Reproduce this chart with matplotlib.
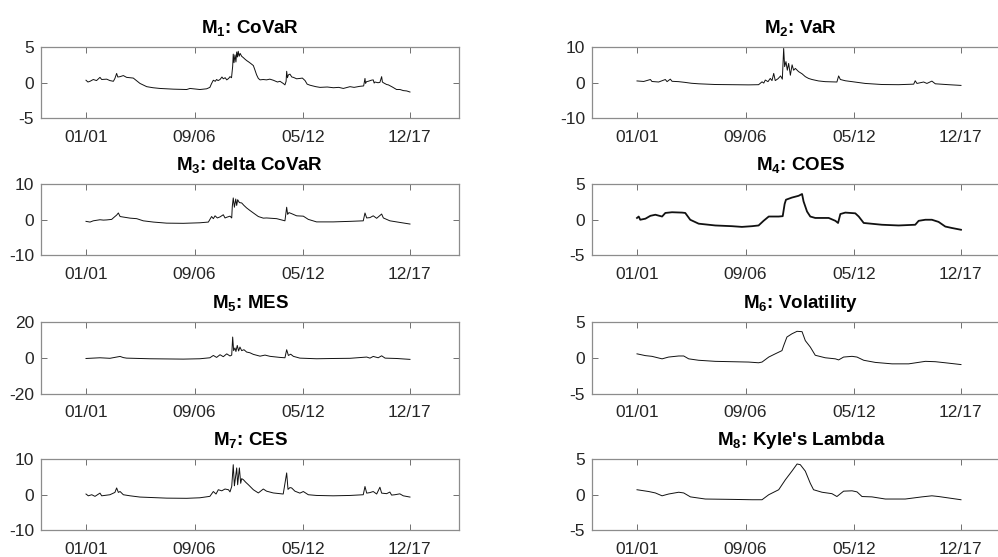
#!/usr/bin/env python3

import matplotlib
matplotlib.use("Agg")
import matplotlib.pyplot as plt

# time axis in decimal years

covar_t = [2001.00, 2001.10, 2001.21, 2001.38, 2001.55, 2001.73, 2001.82, 2002.08, 2002.25, 2002.43,
           2002.51, 2002.60, 2002.66, 2002.78, 2002.95, 2003.12, 2003.47, 2003.82, 2004.17, 2004.50,
           2004.86, 2005.56, 2006.26, 2006.43, 2006.95, 2007.30, 2007.47, 2007.56, 2007.65, 2007.75,
           2007.82, 2007.90, 2008.00, 2008.10, 2008.17, 2008.27, 2008.35, 2008.45, 2008.52, 2008.60,
           2008.66, 2008.69, 2008.73, 2008.78, 2008.83, 2008.87, 2008.91, 2008.95, 2009.00, 2009.05,
           2009.13, 2009.22, 2009.30, 2009.39, 2009.50, 2009.60, 2009.74, 2009.82, 2009.91, 2010.00,
           2010.09, 2010.25, 2010.43, 2010.60, 2010.78, 2011.00, 2011.13, 2011.30, 2011.39, 2011.45,
           2011.48, 2011.52, 2011.57, 2011.65, 2011.75, 2011.83, 2012.00, 2012.17, 2012.30, 2012.44,
           2012.55, 2012.70, 2013.00, 2013.22, 2013.60, 2013.92, 2014.20, 2014.44, 2014.79, 2015.00,
           2015.31, 2015.50, 2015.57, 2015.60, 2015.65, 2015.74, 2015.90, 2016.00, 2016.05, 2016.09,
           2016.25, 2016.35, 2016.44, 2016.48, 2016.53, 2016.70, 2016.79, 2017.00, 2017.22, 2017.40,
           2017.57, 2017.75, 2017.92]
covar_y = [0.35, 0.10, 0.20, 0.45, 0.30, 0.75, 0.45, 0.50, 0.30, 0.20,
           0.60, 1.30, 0.80, 0.85, 1.00, 0.75, 0.65, -0.10, -0.55, -0.70,
           -0.80, -0.90, -0.95, -0.80, -0.95, -0.85, -0.65, -0.10, 0.35, 0.20,
           0.45, 0.30, 0.45, 0.80, 0.55, 0.70, 0.40, 0.60, 0.85, 0.70,
           2.30, 4.00, 2.80, 3.90, 2.90, 4.30, 3.60, 4.40, 3.70, 4.10,
           3.70, 3.50, 3.30, 3.10, 2.90, 2.70, 2.40, 1.80, 1.10, 0.60,
           0.40, 0.45, 0.40, 0.50, 0.35, 0.10, 0.20, -0.10, -0.30, 0.20,
           1.60, 0.70, 1.10, 1.20, 0.80, 0.75, 0.55, 0.60, 0.65, 0.30,
           -0.20, -0.35, -0.55, -0.65, -0.60, -0.70, -0.65, -0.80, -0.55, -0.65,
           -0.50, -0.45, 0.60, -0.10, 0.15, 0.20, 0.35, 0.40, -0.05, 0.10,
           0.00, 0.05, 0.85, 0.10, 0.00, -0.25, -0.30, -0.60, -0.95, -0.95,
           -1.10, -1.15, -1.30]

var_t = [2001.00, 2001.35, 2001.70, 2001.78, 2002.13, 2002.48, 2002.57, 2002.74, 2002.83, 2003.17,
         2003.50, 2003.84, 2004.22, 2005.09, 2005.96, 2006.83, 2007.35, 2007.53, 2007.62, 2007.70,
         2007.84, 2007.96, 2008.05, 2008.14, 2008.22, 2008.36, 2008.50, 2008.59, 2008.66, 2008.71,
         2008.78, 2008.85, 2008.92, 2009.01, 2009.10, 2009.18, 2009.27, 2009.44, 2009.62, 2009.79,
         2009.96, 2010.14, 2010.48, 2010.83, 2011.44, 2011.53, 2011.62, 2011.88, 2012.23, 2012.92,
         2013.79, 2014.66, 2015.45, 2015.53, 2015.62, 2015.97, 2016.14, 2016.40, 2016.58, 2017.27,
         2017.92]
var_y = [0.5, 0.35, 0.9, 0.35, 0.2, 0.9, 0.3, 1.0, 0.4, 0.3,
         0.1, -0.15, -0.3, -0.5, -0.55, -0.6, -0.55, 0.25, -0.1, 0.75,
         0.3, 1.2, 0.6, 2.6, 0.6, 1.1, 1.9, 1.0, 9.6, 4.5,
         5.9, 3.5, 5.4, 2.1, 5.0, 3.5, 4.0, 3.1, 2.5, 1.7,
         1.2, 0.9, 0.5, 0.3, 0.2, 1.9, 0.9, 0.55, 0.3, -0.2,
         -0.5, -0.55, -0.4, 0.55, -0.2, 0.2, -0.2, 0.45, -0.3, -0.55,
         -0.75]

dcovar_t = [2001.00, 2001.21, 2001.38, 2001.73, 2001.91, 2002.08, 2002.34, 2002.51, 2002.60, 2002.69,
            2002.78, 2002.95, 2003.30, 2003.65, 2003.99, 2004.52, 2005.21, 2006.08, 2006.95, 2007.39,
            2007.56, 2007.65, 2007.74, 2007.86, 2008.00, 2008.17, 2008.26, 2008.35, 2008.52, 2008.61,
            2008.64, 2008.69, 2008.75, 2008.82, 2008.87, 2008.92, 2009.01, 2009.13, 2009.25, 2009.39,
            2009.56, 2009.74, 2010.00, 2010.26, 2010.43, 2010.96, 2011.39, 2011.48, 2011.53, 2011.60,
            2011.74, 2012.00, 2012.35, 2012.61, 2013.04, 2013.91, 2014.79, 2015.48, 2015.57, 2015.66,
            2015.83, 2016.00, 2016.18, 2016.44, 2016.53, 2016.87, 2017.39, 2017.92]
dcovar_y = [-0.45, -0.65, -0.3, 0.0, -0.1, -0.05, 0.1, 0.9, 1.3, 1.9,
            0.9, 0.75, 0.45, 0.3, -0.3, -0.65, -0.95, -1.0, -0.85, -0.65,
            0.9, 0.3, 1.1, 0.5, 0.8, 1.4, 0.5, 0.7, 1.0, 0.5,
            3.7, 6.1, 3.5, 5.8, 4.0, 5.6, 4.8, 4.7, 4.0, 3.3,
            2.6, 1.9, 0.9, 0.45, 0.5, 0.3, -0.3, 3.5, 1.5, 2.0,
            1.7, 1.1, 1.0, 0.1, -0.6, -0.6, -0.45, -0.3, 1.9, 0.5,
            0.6, 1.1, 0.4, 1.6, 0.5, -0.3, -0.75, -1.2]

coes_t = [2001.00, 2001.09, 2001.17, 2001.44, 2001.70, 2001.96, 2002.31, 2002.48, 2002.83, 2003.35,
          2003.52, 2003.78, 2004.22, 2005.09, 2005.96, 2006.48, 2007.01, 2007.35, 2007.61, 2007.88,
          2008.40, 2008.61, 2008.71, 2008.78, 2009.09, 2009.44, 2009.62, 2009.70, 2009.88, 2010.05,
          2010.31, 2011.01, 2011.36, 2011.50, 2011.62, 2011.88, 2012.40, 2012.58, 2012.84, 2013.79,
          2014.66, 2015.53, 2015.71, 2016.06, 2016.40, 2016.75, 2017.10, 2017.44, 2017.92]
coes_y = [0.25, 0.45, 0.0, 0.15, 0.55, 0.7, 0.45, 0.95, 1.05, 1.0,
          0.95, 0.0, -0.55, -0.8, -0.9, -1.0, -0.9, -0.8, -0.15, 0.45,
          0.45, 0.5, 2.2, 2.8, 3.1, 3.35, 3.6, 2.55, 1.15, 0.45,
          0.25, 0.25, -0.15, -0.45, 0.8, 1.0, 0.9, 0.45, -0.45, -0.7,
          -0.8, -0.7, -0.15, 0.0, 0.0, -0.3, -0.95, -1.15, -1.4]

mes_t = [2001.00, 2001.73, 2002.25, 2002.60, 2002.78, 2002.95, 2003.12, 2004.34, 2006.08, 2006.95,
         2007.47, 2007.65, 2007.82, 2008.00, 2008.17, 2008.35, 2008.52, 2008.61, 2008.66, 2008.71,
         2008.78, 2008.83, 2008.90, 2008.97, 2009.04, 2009.13, 2009.25, 2009.39, 2009.56, 2009.74,
         2010.09, 2010.35, 2010.61, 2011.13, 2011.39, 2011.48, 2011.57, 2011.69, 2011.83, 2012.17,
         2013.04, 2013.92, 2014.79, 2015.66, 2015.83, 2016.00, 2016.26, 2016.44, 2016.62, 2017.22,
         2017.92]
mes_y = [-0.4, 0.0, -0.3, 0.4, 0.75, 0.1, -0.2, -0.55, -0.75, -0.55,
         0.0, 1.3, 0.2, 1.7, 0.6, 2.2, 1.0, 1.5, 11.6, 4.0,
         5.5, 3.5, 6.9, 3.8, 6.0, 4.0, 4.5, 3.2, 2.8, 1.9,
         0.9, 1.5, 0.8, 0.2, 0.0, 4.5, 1.3, 2.0, 0.8, -0.2,
         -0.55, -0.4, -0.3, 0.4, -0.2, 0.75, 0.0, 1.1, -0.2, -0.4,
         -0.9]

vol_t = [2001.00, 2001.44, 2001.78, 2002.31, 2002.65, 2003.18, 2003.44, 2003.70, 2004.22, 2005.09,
         2005.96, 2006.83, 2007.35, 2007.53, 2007.88, 2008.22, 2008.57, 2008.66, 2008.83, 2009.09,
         2009.36, 2009.62, 2009.79, 2010.05, 2010.31, 2010.83, 2011.36, 2011.53, 2011.79, 2012.23,
         2012.49, 2012.84, 2013.45, 2014.32, 2015.19, 2016.06, 2016.58, 2017.10, 2017.92]
vol_y = [0.55, 0.3, 0.2, -0.15, 0.1, 0.25, 0.25, -0.15, -0.35, -0.5,
         -0.55, -0.6, -0.7, -0.6, 0.1, 0.55, 1.0, 1.7, 2.9, 3.35,
         3.7, 3.65, 2.4, 1.5, 0.35, 0.0, -0.15, -0.3, 0.1, 0.2,
         0.1, -0.35, -0.65, -0.85, -0.85, -0.5, -0.55, -0.7, -0.95]

ces_t = [2001.00, 2001.12, 2001.30, 2001.47, 2001.73, 2001.82, 2002.25, 2002.51, 2002.60, 2002.69,
         2002.78, 2002.95, 2003.30, 2003.82, 2005.21, 2006.26, 2006.95, 2007.47, 2007.65, 2007.79,
         2007.91, 2008.09, 2008.26, 2008.44, 2008.52, 2008.61, 2008.69, 2008.75, 2008.78, 2008.87,
         2008.92, 2009.01, 2009.08, 2009.13, 2009.22, 2009.34, 2009.48, 2009.74, 2010.00, 2010.26,
         2010.43, 2010.78, 2011.30, 2011.48, 2011.55, 2011.65, 2011.74, 2011.91, 2012.17, 2012.35,
         2012.61, 2013.04, 2013.91, 2014.79, 2015.48, 2015.57, 2015.66, 2015.83, 2016.00, 2016.18,
         2016.35, 2016.44, 2016.70, 2016.87, 2016.96, 2017.13, 2017.39, 2017.57, 2017.92]
ces_y = [0.2, -0.3, 0.0, -0.45, 0.45, -0.3, 0.0, 0.65, 1.9, 0.65,
         0.9, 0.0, -0.3, -0.65, -0.95, -1.0, -0.85, -0.45, 0.9, 0.2,
         1.4, 1.1, 1.6, 1.4, 0.8, 2.3, 8.4, 2.5, 3.7, 7.5,
         2.8, 7.5, 3.2, 4.5, 4.2, 3.5, 2.8, 1.4, 0.5, 1.6,
         1.0, 0.5, 0.2, 6.1, 1.5, 2.0, 1.9, 1.0, 0.45, 0.9,
         0.0, -0.2, -0.3, -0.2, 0.0, 2.3, 0.45, 0.6, 0.9, 0.2,
         2.1, 0.45, 0.3, 0.75, -0.1, 0.0, 0.25, -0.3, -0.65]

kyle_t = [2001.00, 2001.61, 2001.96, 2002.31, 2002.65, 2003.18, 2003.44, 2003.79, 2004.57, 2005.96,
          2007.01, 2007.53, 2007.88, 2008.40, 2008.75, 2009.09, 2009.36, 2009.53, 2009.79, 2010.05,
          2010.22, 2010.66, 2011.18, 2011.44, 2011.79, 2012.23, 2012.49, 2012.75, 2013.27, 2013.97,
          2015.01, 2015.88, 2016.40, 2016.75, 2017.27, 2017.92]
kyle_y = [0.7, 0.45, 0.25, -0.15, 0.1, 0.35, 0.25, -0.3, -0.6, -0.65,
          -0.7, -0.7, 0.0, 0.7, 2.1, 3.3, 4.3, 4.2, 3.3, 1.6,
          0.7, 0.35, 0.15, -0.25, 0.5, 0.55, 0.4, -0.25, -0.3, -0.6,
          -0.6, -0.3, -0.15, -0.25, -0.45, -0.7]

titles = ["$\\mathbf{M_1}$: CoVaR", "$\\mathbf{M_2}$: VaR", "$\\mathbf{M_3}$: delta CoVaR",
          "$\\mathbf{M_4}$: COES", "$\\mathbf{M_5}$: MES", "$\\mathbf{M_6}$: Volatility",
          "$\\mathbf{M_7}$: CES", "$\\mathbf{M_8}$: Kyle's Lambda"]
series = [(covar_t, covar_y), (var_t, var_y), (dcovar_t, dcovar_y), (coes_t, coes_y),
          (mes_t, mes_y), (vol_t, vol_y), (ces_t, ces_y), (kyle_t, kyle_y)]
ylims = [5, 10, 10, 5, 20, 5, 10, 5]

tick_pos = [2001.0, 2006 + 8/12, 2012 + 4/12, 2017 + 11/12]
tick_lab = ["01/01", "09/06", "05/12", "12/17"]

plt.rcParams['font.family'] = ['Liberation Sans', 'DejaVu Sans']
plt.rcParams['mathtext.fontset'] = 'custom'
plt.rcParams['mathtext.rm'] = 'Liberation Sans'
plt.rcParams['mathtext.bf'] = 'Liberation Sans:bold'
plt.rcParams['axes.unicode_minus'] = False

fig = plt.figure(figsize=(9.98, 5.57), dpi=100)

lefts = [41/998, 592/998]
bottoms = [0.7873, 0.5413, 0.2935, 0.0476]
w = 418/998
h = 71.5/557

for i in range(8):
  ax = fig.add_axes([lefts[i % 2], bottoms[i // 2], w, h])
  t, y = series[i]
  lw = 1.3 if i == 3 else 0.7
  ax.plot(t, y, color='#111111', linewidth=lw)
  ax.set_xlim(1998.65, 2020.48)
  L = ylims[i]
  ax.set_ylim(-L, L)
  ax.set_yticks([-L, 0, L])
  ax.set_xticks(tick_pos)
  ax.set_xticklabels(tick_lab)
  ax.tick_params(direction='in', top=True, right=True, length=4, width=0.7,
                 color='#707070', labelcolor='#262626', labelsize=12.5)
  ax.tick_params(axis='x', pad=8.5)
  ax.tick_params(axis='y', pad=5)
  for s in ax.spines.values():
    s.set_color('#8c8c8c')
    s.set_linewidth(0.9)
  ax.set_title(titles[i], fontsize=13.5, fontweight='bold', pad=10)

fig.savefig("out.png", dpi=100)
